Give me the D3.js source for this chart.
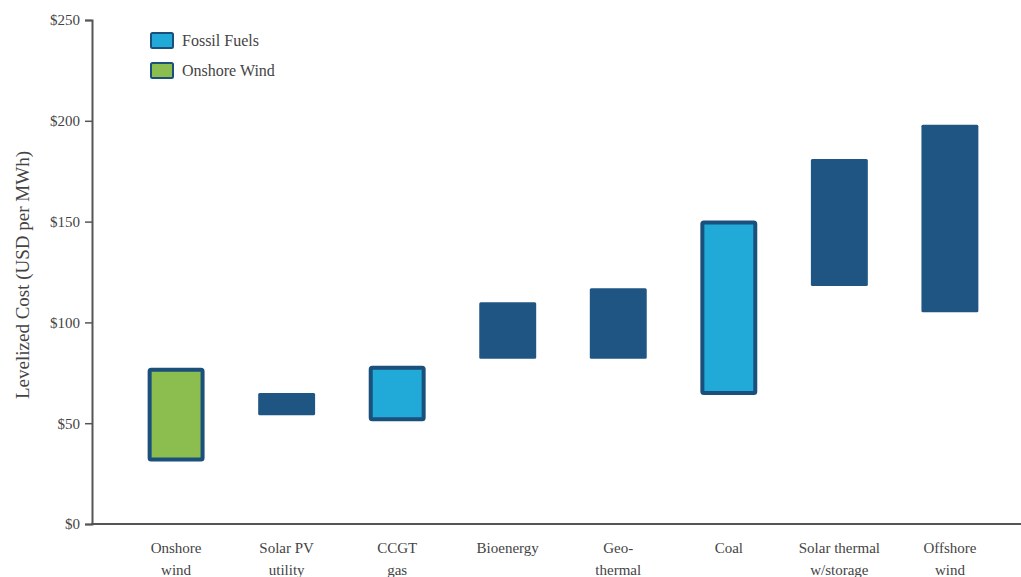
<!DOCTYPE html>
<html>
<head>
<meta charset="utf-8">
<script src="https://cdn.jsdelivr.net/npm/d3@7"></script>
<style>
  body { margin: 0; background: #fff; }
  text { font-family: "Liberation Serif", "Times New Roman", serif; fill: #444; }
</style>
</head>
<body>
<div id="chart"></div>
<script>
// Data
const techs = ["Onshore wind", "Solar PV utility", "CCGT gas", "Bioenergy", "Geo-thermal", "Coal", "Solar thermal w/storage", "Offshore wind"];
const labelLines = [["Onshore", "wind"], ["Solar PV", "utility"], ["CCGT", "gas"], ["Bioenergy"], ["Geo-", "thermal"], ["Coal"], ["Solar thermal", "w/storage"], ["Offshore", "wind"]];
const lowCost = [31, 54, 51, 82, 82, 64, 118, 105];
const highCost = [77.5, 65, 78.5, 110, 117, 150.5, 181, 198];
const groups = ["wind", "other", "fossil", "other", "other", "fossil", "other", "other"];
const yTicks = [0, 50, 100, 150, 200, 250];

const width = 1021, height = 577;
const margin = { top: 20, right: 0, bottom: 53, left: 92 };

const svg = d3.select("#chart").append("svg")
  .attr("width", width)
  .attr("height", height);

const x = d3.scaleBand()
  .domain(techs)
  .range([120, 1006])
  .paddingInner(0.485)
  .paddingOuter(0.25);

const y = d3.scaleLinear()
  .domain([0, 250])
  .range([height - margin.bottom, margin.top]);

const fill = { fossil: "#21a9d8", wind: "#8bbd4f", other: "#1f5582" };
const outline = "#1b4f7c";

// Bars
const rows = techs.map((t, i) => ({ tech: t, lo: lowCost[i], hi: highCost[i], g: groups[i] }));

svg.append("g").selectAll("rect")
  .data(rows)
  .join("rect")
  .attr("x", d => d.g === "other" ? x(d.tech) : x(d.tech) + 2)
  .attr("y", d => d.g === "other" ? y(d.hi) : y(d.hi) + 2)
  .attr("width", d => d.g === "other" ? x.bandwidth() : x.bandwidth() - 4)
  .attr("height", d => d.g === "other" ? y(d.lo) - y(d.hi) : y(d.lo) - y(d.hi) - 4)
  .attr("fill", d => fill[d.g])
  .attr("stroke", d => d.g === "other" ? "none" : outline)
  .attr("stroke-width", 4)
  .attr("rx", 1.5);

// Y axis
const yAxis = svg.append("g")
  .attr("transform", `translate(${margin.left},0)`)
  .call(d3.axisLeft(y).tickValues(yTicks).tickSize(7).tickPadding(5).tickFormat(d => "$" + d));
yAxis.select(".domain").attr("stroke", "#555").attr("stroke-width", 2);
yAxis.selectAll(".tick line").attr("stroke", "#555").attr("stroke-width", 1.5);
yAxis.selectAll(".tick text").style("font-size", "15px").attr("fill", "#444");

// X axis line
svg.append("line")
  .attr("x1", margin.left - 1).attr("x2", width)
  .attr("y1", y(0)).attr("y2", y(0))
  .attr("stroke", "#555").attr("stroke-width", 2);

// X labels
const xl = svg.append("g").selectAll("text")
  .data(techs)
  .join("text")
  .attr("text-anchor", "middle")
  .attr("x", d => x(d) + x.bandwidth() / 2)
  .attr("y", 553)
  .style("font-size", "15px");
xl.selectAll("tspan")
  .data((d, i) => labelLines[i])
  .join("tspan")
  .attr("x", function () { return this.parentNode.getAttribute("x"); })
  .attr("dy", (d, i) => i === 0 ? 0 : 22)
  .text(d => d);

// Y axis title
svg.append("text")
  .attr("transform", `translate(29,${(y(0) + y(250)) / 2 + 3}) rotate(-90)`)
  .attr("text-anchor", "middle")
  .style("font-size", "19px")
  .text("Levelized Cost (USD per MWh)");

// Legend
const legendItems = [["Fossil Fuels", "fossil"], ["Onshore Wind", "wind"]];
const lg = svg.append("g").selectAll("g")
  .data(legendItems)
  .join("g")
  .attr("transform", (d, i) => `translate(150,${32 + i * 30})`);
lg.append("rect")
  .attr("x", 1).attr("y", 1)
  .attr("width", 22).attr("height", 15)
  .attr("rx", 1.5)
  .attr("fill", d => fill[d[1]])
  .attr("stroke", outline)
  .attr("stroke-width", 2);
lg.append("text")
  .attr("x", 32).attr("y", 14)
  .style("font-size", "16px")
  .text(d => d[0]);
</script>
</body>
</html>
